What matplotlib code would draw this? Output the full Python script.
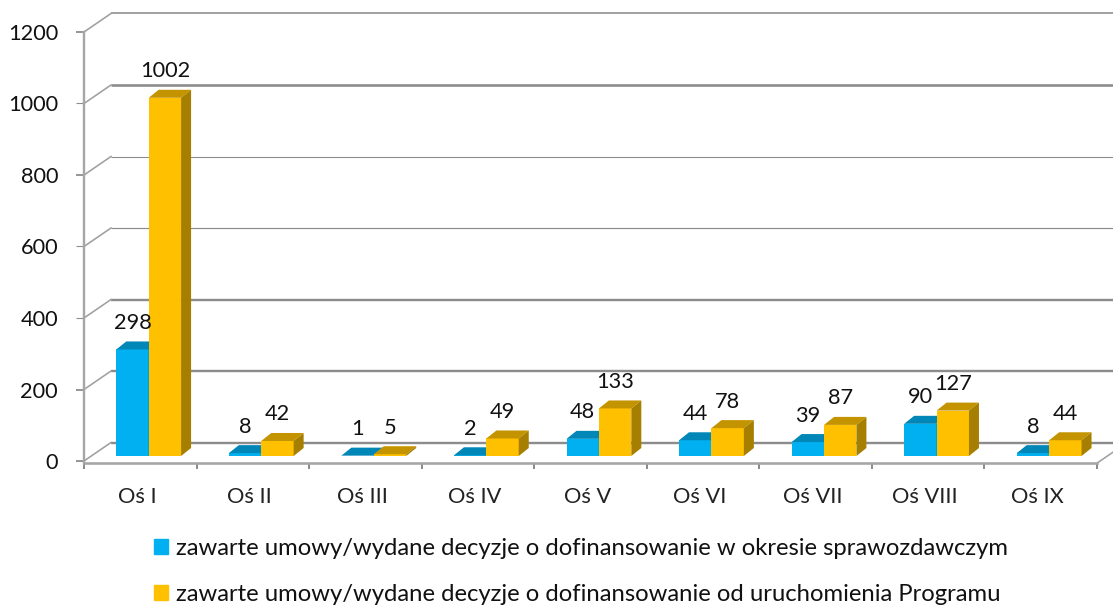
import matplotlib
matplotlib.use('Agg')
import matplotlib.pyplot as plt
from matplotlib.patches import Patch, Polygon
import numpy as np

plt.rcParams['font.family'] = ['Lato', 'DejaVu Sans']

kategorie = ['Oś I', 'Oś II', 'Oś III', 'Oś IV', 'Oś V', 'Oś VI', 'Oś VII', 'Oś VIII', 'Oś IX']
okres = [298, 8, 1, 2, 48, 44, 39, 90, 8]
program = [1002, 42, 5, 49, 133, 78, 87, 127, 44]
y_ticks = [0, 200, 400, 600, 800, 1000, 1200]
nazwa_okres = 'zawarte umowy/wydane decyzje o dofinansowanie w okresie sprawozdawczym'
nazwa_program = 'zawarte umowy/wydane decyzje o dofinansowanie od uruchomienia Programu'

W, H = 1113, 606
fig = plt.figure(figsize=(W / 100, H / 100), dpi=100)
ax = fig.add_axes([84 / W, (H - 461) / H, (1097 - 84) / W, (461 - 32) / H])
ax.set_xlim(-0.5, 8.5)
ax.set_ylim(0, 1200)

# przeliczenie pikseli na jednostki osi
px_x = 9 / (1097 - 84)
px_y = 1200 / (461 - 32)
pt = 72 / 100

# sciany wykresu
dx_wall = 27 * px_x
dy_wall = 18.5 * px_y
grid_w = {0: 2.4, 200: 2.4, 400: 2.4, 600: 1.2, 800: 1.1, 1000: 2.6, 1200: 1.6}
for v in y_ticks:
    ax.plot([-0.5 + dx_wall, 9.5], [v + dy_wall, v + dy_wall], color='#8c8c8c',
            lw=grid_w[v] * pt, clip_on=False, zorder=1, solid_capstyle='butt')
    ax.plot([-0.5, -0.5 + dx_wall], [v, v + dy_wall], color='#a0a0a0',
            lw=1.6 * pt, clip_on=False, zorder=1)
ax.plot([8.5, 8.5 + dx_wall], [-6, -6 + dy_wall], color='#a0a0a0', lw=1.6 * pt,
        clip_on=False, zorder=1)

# slupki
shift = 8.4 * px_x
bar_w = 32.4 * px_x
base = 5 * px_y
dx = 10 * px_x
dy = 8 * px_y
x = np.arange(len(kategorie))


def slupki(xs, vals, front, top, side):
    ax.bar(xs, vals, bar_w, bottom=base, color=front, clip_on=False, zorder=3)
    for xi, v in zip(xs, vals):
        l, r = xi - bar_w / 2, xi + bar_w / 2
        t = base + v
        ax.add_patch(Polygon([(l, t), (r, t), (r + dx, t + dy), (l + dx, t + dy)],
                             color=top, lw=0, clip_on=False, zorder=3))
        ax.add_patch(Polygon([(r, base), (r + dx, base + dy), (r + dx, t + dy), (r, t)],
                             color=side, lw=0, clip_on=False, zorder=3))
        ax.annotate(str(v), (xi, t), xytext=(0, 26.5 * pt), textcoords='offset points',
                    ha='center', va='center', fontsize=15.7, color='#111111', zorder=5,
                    annotation_clip=False)


slupki(x + shift - bar_w / 2, okres, '#00B0F0', '#0087B8', '#0087B8')
slupki(x + shift + bar_w / 2, program, '#FFC000', '#C49400', '#A67F00')

# osie
for s in ['top', 'right']:
    ax.spines[s].set_visible(False)
ax.spines['left'].set_color('#a6a6a6')
ax.spines['left'].set_linewidth(2.4 * pt)
ax.spines['left'].set_bounds(-6, 1200)
ax.spines['bottom'].set_color('#a6a6a6')
ax.spines['bottom'].set_linewidth(2.6 * pt)
ax.spines['bottom'].set_position(('outward', 2 * pt))

ax.set_yticks(y_ticks)
ax.tick_params(axis='y', length=8 * pt, width=1.8 * pt, color='#8c8c8c', pad=18 * pt,
               labelsize=15.7, labelcolor='#111111')
for t, v in zip(ax.yaxis.get_major_ticks(), y_ticks):
    if v in (400, 600, 1000):
        t.tick1line.set_markeredgewidth(1.1 * pt)

ax.set_xticks(np.arange(-0.5, 9, 1))
ax.set_xticklabels([])
ax.tick_params(axis='x', which='major', length=6 * pt, width=2 * pt, color='#8c8c8c')
ax.set_xticks(x - 3 * px_x, kategorie, minor=True)
ax.tick_params(axis='x', which='minor', length=0, pad=24 * pt, labelsize=15.7,
               labelcolor='#222222')

# legenda
uchwyty = [Patch(color='#00B0F0', label=nazwa_okres), Patch(color='#FFC000', label=nazwa_program)]
fig.legend(handles=uchwyty, loc='upper left', bbox_to_anchor=(154 / W, 1 - 538 / H),
           borderaxespad=0, borderpad=0, frameon=False, fontsize=17.2, handlelength=0.6,
           handleheight=0.6, handletextpad=0.3, labelspacing=1.06, labelcolor='#111111')

fig.savefig('out.png', dpi=100)
